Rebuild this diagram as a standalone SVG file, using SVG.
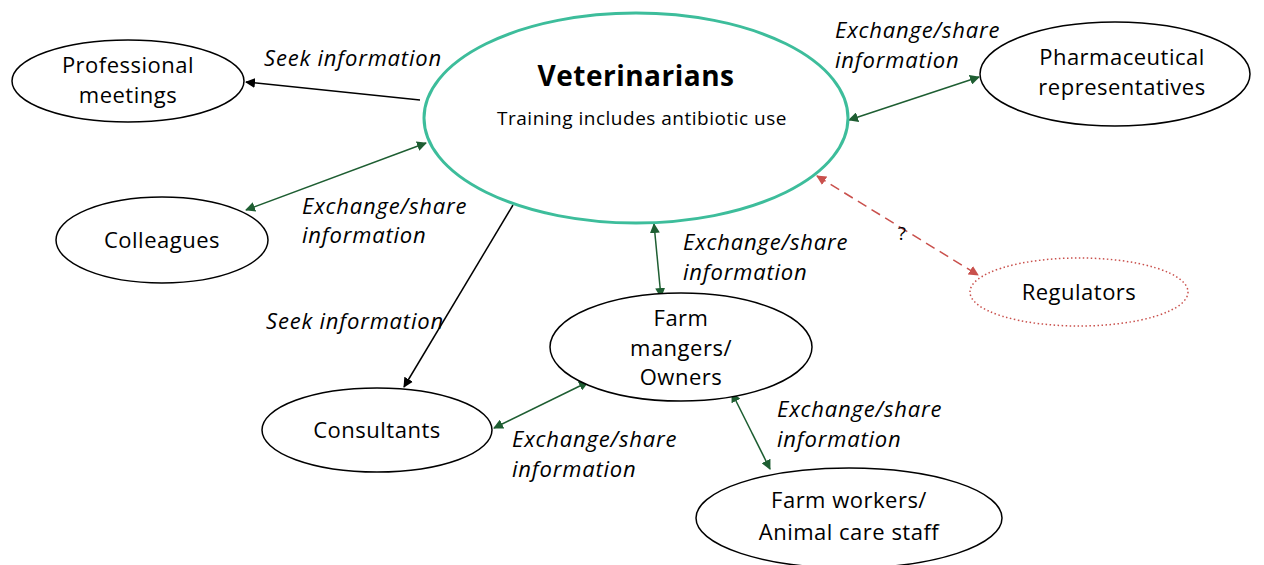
<svg xmlns="http://www.w3.org/2000/svg" width="1264" height="565" viewBox="0 0 1264 565">
<defs>
<style>
.n{fill:#fff;stroke:#000;stroke-width:1.5}
.t{font-family:"Open Sans","Noto Sans",sans-serif;font-size:22px;letter-spacing:0.5px;fill:#000;text-anchor:middle}
.l{font-family:"Open Sans","Noto Sans",sans-serif;font-size:22px;letter-spacing:0.8px;font-style:italic;fill:#000}
.k{stroke:#000;stroke-width:1.5;fill:none}
.g{stroke:#1e5e32;stroke-width:1.5;fill:none}
.r{stroke:#c9504c;stroke-width:1.5;fill:none;stroke-dasharray:10 6}
</style>
<marker id="ak" viewBox="0 0 10 10" refX="9" refY="5" markerWidth="10" markerHeight="10" markerUnits="userSpaceOnUse" orient="auto-start-reverse"><path d="M0,0L10,5L0,10z" fill="#000"/></marker>
<marker id="ag" viewBox="0 0 10 10" refX="9" refY="5" markerWidth="10" markerHeight="10" markerUnits="userSpaceOnUse" orient="auto-start-reverse"><path d="M0,0L10,5L0,10z" fill="#1e5e32"/></marker>
<marker id="ar" viewBox="0 0 10 10" refX="9" refY="5" markerWidth="10" markerHeight="10" markerUnits="userSpaceOnUse" orient="auto-start-reverse"><path d="M0,0L10,5L0,10z" fill="#c9504c"/></marker>
</defs>
<rect width="1264" height="565" fill="#fff"/>
<g id="connectors">
<line class="k" x1="420" y1="100" x2="246" y2="82" marker-end="url(#ak)"/>
<line class="g" x1="246" y1="210" x2="426" y2="143" marker-start="url(#ag)" marker-end="url(#ag)"/>
<line class="k" x1="513" y1="205" x2="404" y2="387" marker-end="url(#ak)"/>
<line class="g" x1="654" y1="224" x2="661" y2="297" marker-start="url(#ag)" marker-end="url(#ag)"/>
<line class="g" x1="849" y1="120" x2="979" y2="77" marker-start="url(#ag)" marker-end="url(#ag)"/>
<line class="r" x1="817" y1="176" x2="978" y2="275" marker-start="url(#ar)" marker-end="url(#ar)"/>
<line class="g" x1="588" y1="382" x2="494" y2="428" marker-start="url(#ag)" marker-end="url(#ag)"/>
<line class="g" x1="732" y1="393" x2="770" y2="469" marker-start="url(#ag)" marker-end="url(#ag)"/>
<text class="l" x="264" y="66">Seek  information</text>
<text class="l" x="835" y="38">Exchange/share</text>
<text class="l" x="835" y="68">information</text>
<text class="l" x="302" y="214">Exchange/share</text>
<text class="l" x="302" y="243">information</text>
<text class="l" x="683" y="250">Exchange/share</text>
<text class="l" x="683" y="280">information</text>
<text class="t" x="902" y="240" style="font-size:19px">?</text>
<text class="l" x="266" y="329">Seek  information</text>
<text class="l" x="777" y="417">Exchange/share</text>
<text class="l" x="777" y="447">information</text>
<text class="l" x="512" y="447">Exchange/share</text>
<text class="l" x="512" y="477">information</text>
</g>
<g id="veterinarians">
<ellipse cx="636" cy="118" rx="212" ry="105" fill="#fff" stroke="#3dbd9b" stroke-width="3"/>
<text class="t" x="636" y="86" style="font-size:28px;font-weight:bold">Veterinarians</text>
<text class="t" x="642" y="125" style="font-size:19px">Training includes antibiotic use</text>
</g>
<g id="professional-meetings">
<ellipse class="n" cx="128" cy="81" rx="116" ry="41"/>
<text class="t" x="128" y="73">Professional</text>
<text class="t" x="128" y="103">meetings</text>
</g>
<g id="colleagues">
<ellipse class="n" cx="162" cy="240" rx="106" ry="43"/>
<text class="t" x="162" y="248">Colleagues</text>
</g>
<g id="pharmaceutical-representatives">
<ellipse class="n" cx="1115" cy="74" rx="135" ry="52"/>
<text class="t" x="1122" y="65">Pharmaceutical</text>
<text class="t" x="1122" y="95">representatives</text>
</g>
<g id="regulators">
<ellipse cx="1079" cy="292" rx="109" ry="34" fill="#fff" stroke="#c9504c" stroke-width="1.5" stroke-dasharray="1.5 2.5"/>
<text class="t" x="1079" y="300">Regulators</text>
</g>
<g id="farm-managers">
<ellipse class="n" cx="681" cy="347" rx="131" ry="54"/>
<text class="t" x="681" y="326">Farm</text>
<text class="t" x="681" y="356">mangers/</text>
<text class="t" x="681" y="385">Owners</text>
</g>
<g id="consultants">
<ellipse class="n" cx="377" cy="430" rx="115" ry="42"/>
<text class="t" x="377" y="438">Consultants</text>
</g>
<g id="farm-workers">
<ellipse class="n" cx="849" cy="518" rx="153" ry="50"/>
<text class="t" x="849" y="508">Farm workers/</text>
<text class="t" x="849" y="540">Animal care staff</text>
</g>
</svg>
